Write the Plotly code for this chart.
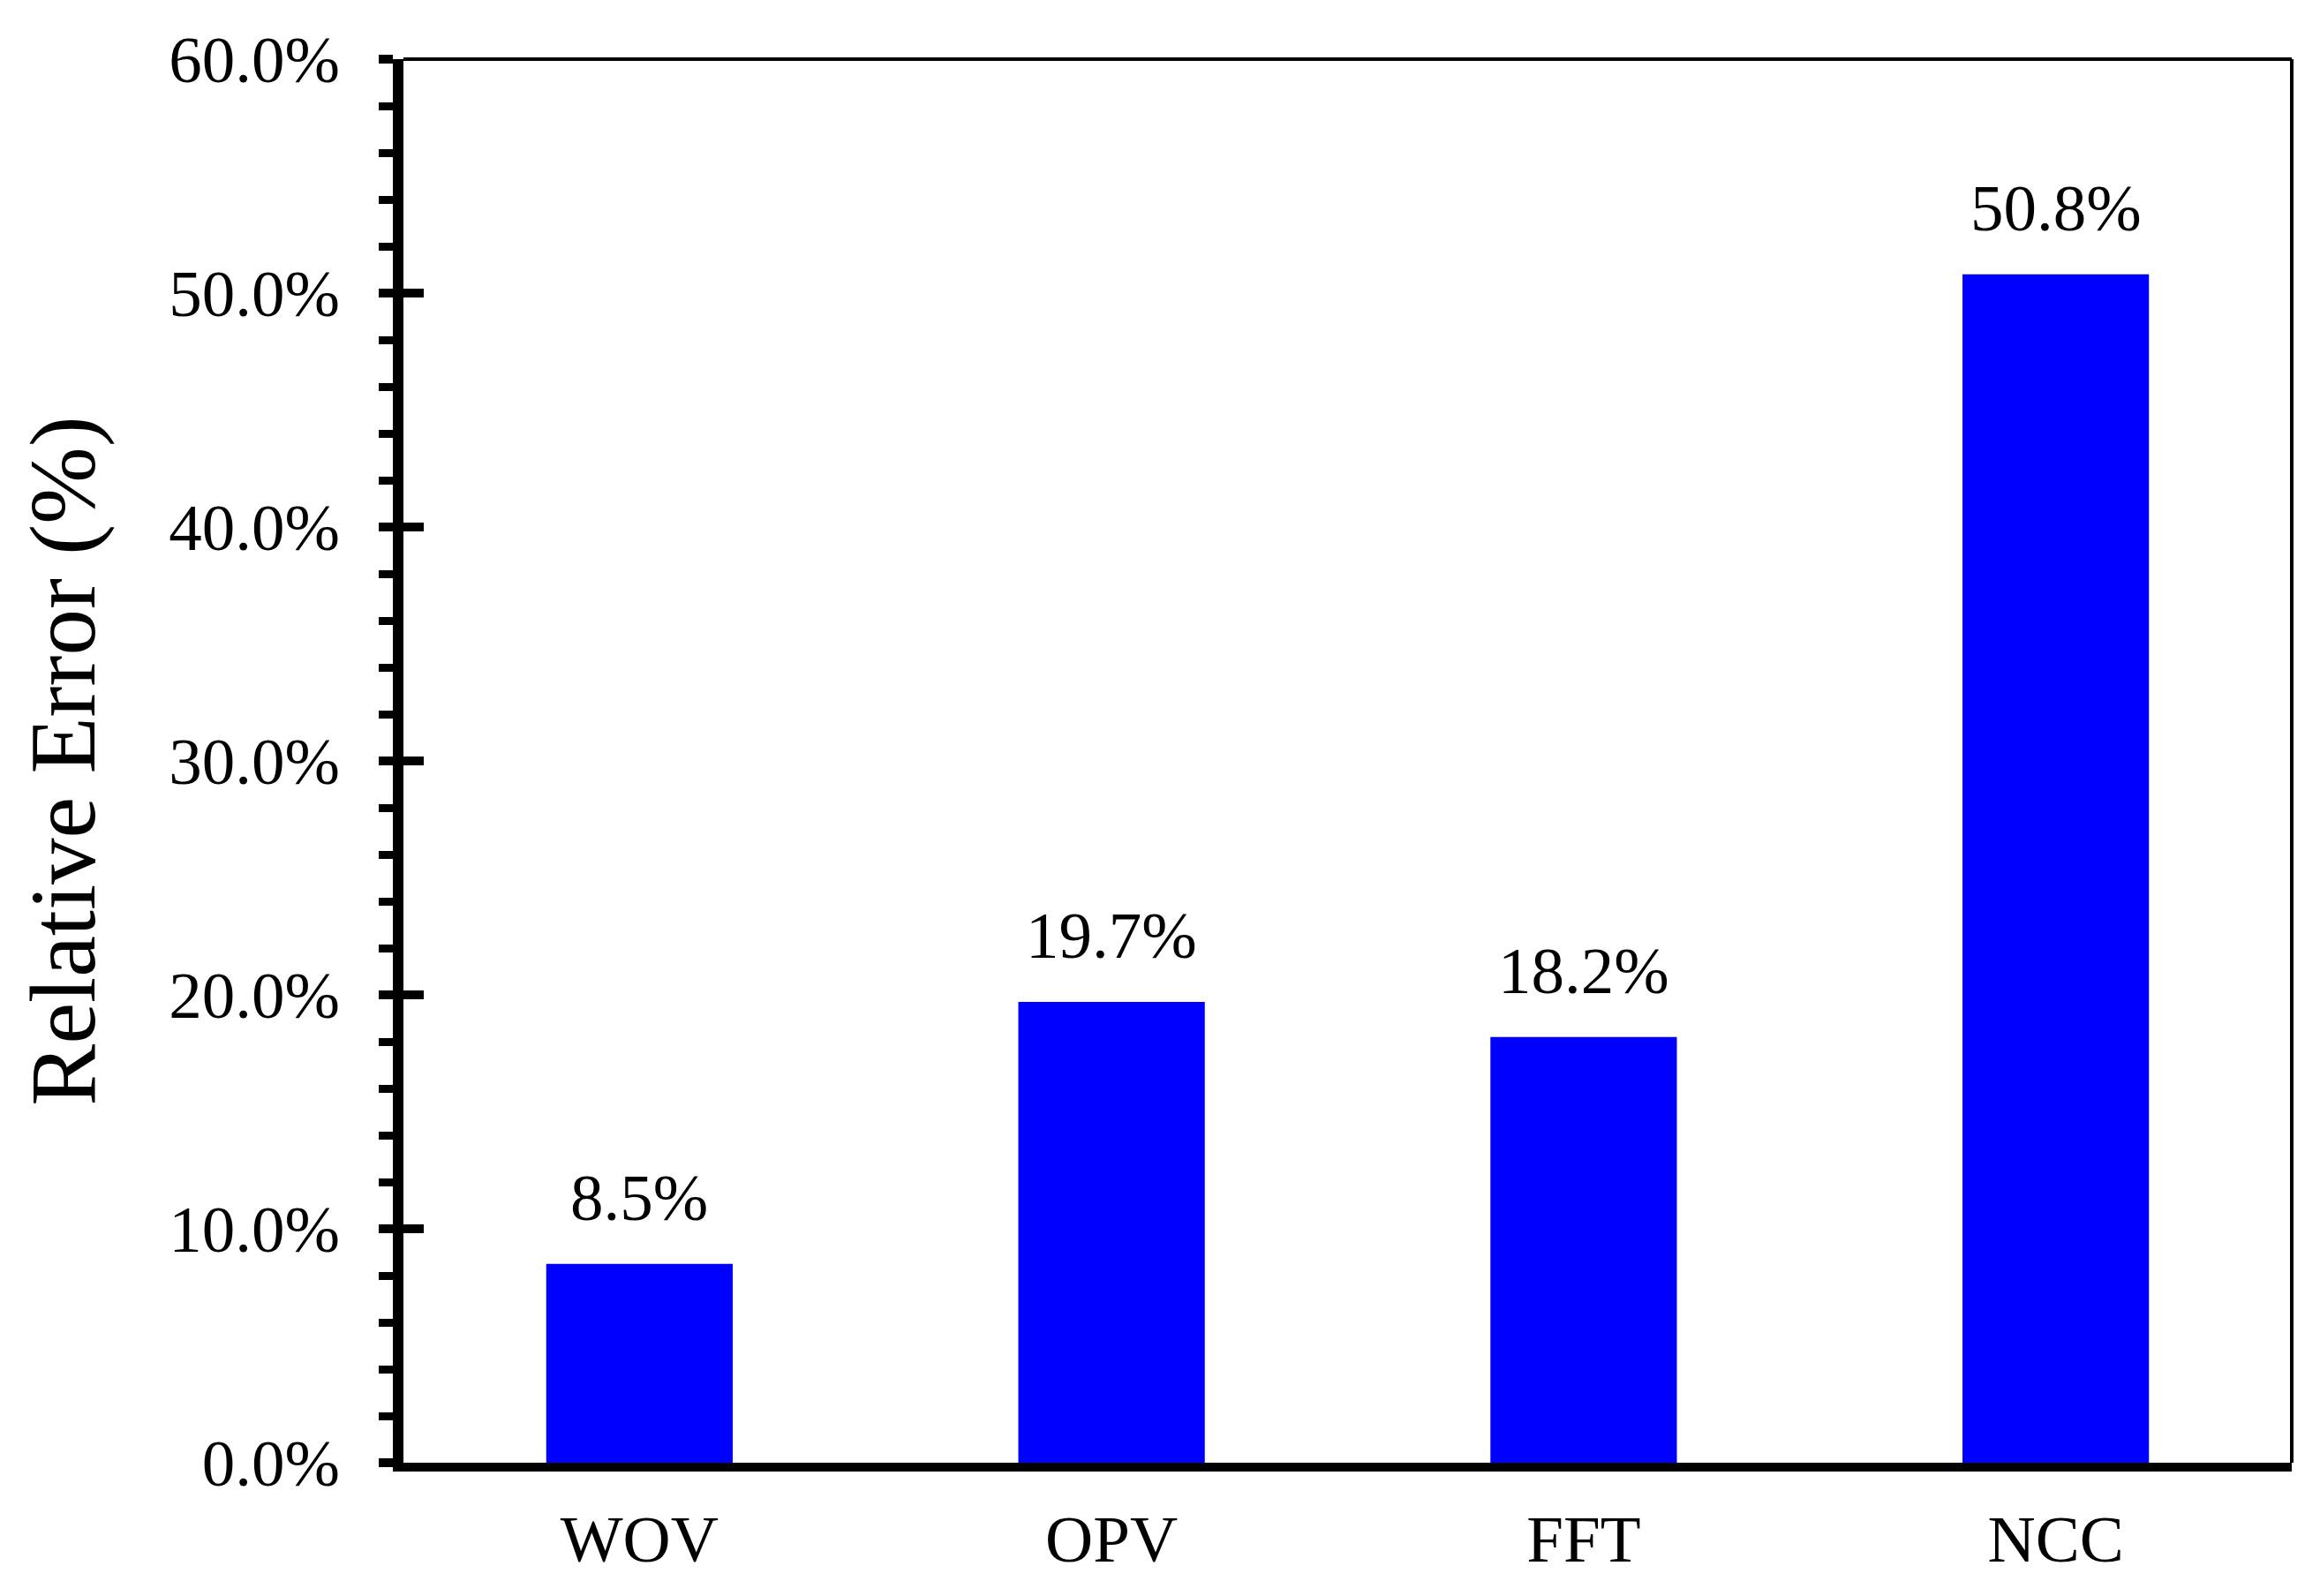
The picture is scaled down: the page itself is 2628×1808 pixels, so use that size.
import plotly.graph_objects as go

categories = ["WOV", "OPV", "FFT", "NCC"]
values = [8.5, 19.7, 18.2, 50.8]
value_labels = ["8.5%", "19.7%", "18.2%", "50.8%"]
y_tickvals = [0, 10, 20, 30, 40, 50, 60]
y_ticktext = ["0.0%", "10.0%", "20.0%", "30.0%", "40.0%", "50.0%", "60.0%"]

FONT = "Liberation Serif, Times New Roman, serif"

fig = go.Figure()
fig.add_trace(go.Bar(x=categories, y=values, marker=dict(color="#0000FF", line=dict(width=0)),
                     width=0.395, showlegend=False))
# invisible trace to activate the overlay axis (inside major ticks)
fig.add_trace(go.Scatter(x=categories, y=values, yaxis="y2", mode="markers",
                         marker=dict(opacity=0), showlegend=False, hoverinfo="skip"))

for c, v, t in zip(categories, values, value_labels):
    fig.add_annotation(x=c, y=v, text=t, showarrow=False, yanchor="bottom", yshift=32,
                       font=dict(family=FONT, size=75, color="black"))

fig.update_layout(
    width=2628, height=1808,
    margin=dict(l=449, r=40, t=59, b=159),
    paper_bgcolor="white", plot_bgcolor="white",
    font=dict(family=FONT, size=75, color="black"),
    bargap=0.6,
    xaxis=dict(showline=True, linecolor="black", linewidth=10, ticks="", showgrid=False,
               zeroline=False, tickfont=dict(size=75), ticklabelstandoff=12),
    yaxis=dict(range=[0, 60], tickvals=y_tickvals, ticktext=y_ticktext, showline=True,
               linecolor="black", linewidth=12, ticks="outside", ticklen=16, tickwidth=10,
               tickcolor="black", showgrid=False, zeroline=False, tickfont=dict(size=75),
               ticklabelstandoff=29,
               minor=dict(dtick=2, ticks="outside", ticklen=16, tickwidth=9, tickcolor="black"),
               title=dict(text="Relative Error (%)", font=dict(size=105), standoff=54)),
    yaxis2=dict(range=[0, 60], overlaying="y", side="left", anchor="x", tickvals=y_tickvals,
                showticklabels=False, ticks="inside", ticklen=23, tickwidth=10,
                tickcolor="black", showline=False, showgrid=False, zeroline=False),
)

fig.add_shape(type="line", xref="paper", yref="paper", x0=0, x1=1, y0=1, y1=1,
              line=dict(color="black", width=4))
fig.add_shape(type="line", xref="paper", yref="paper", x0=1, x1=1, y0=0, y1=1,
              line=dict(color="black", width=4))

fig.write_html("out.html")
